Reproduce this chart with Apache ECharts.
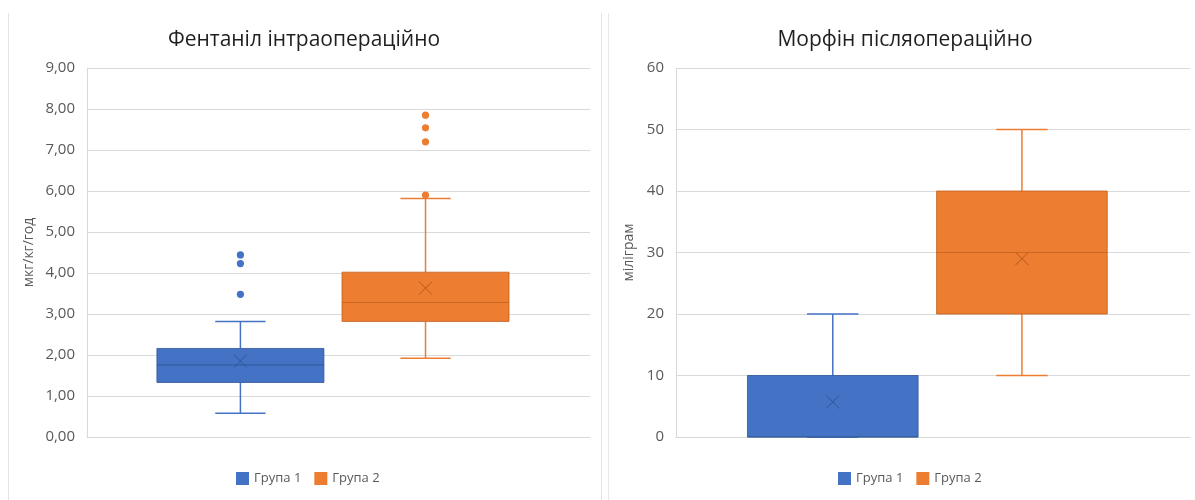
<!DOCTYPE html>
<html>
<head>
<meta charset="utf-8">
<script src="https://cdn.jsdelivr.net/npm/echarts@6/dist/echarts.min.js"></script>
<style>
html,body{margin:0;padding:0;background:#fff;}
#chart{width:1195px;height:500px;}
</style>
</head>
<body>
<div id="chart"></div>
<script>
// ---- data ----
const groups = ['Група 1', 'Група 2'];
const titles = ['Фентаніл інтраопераційно', 'Морфін післяопераційно'];
const yNames = ['мкг/кг/год', 'міліграм'];
// [min, q1, median, q3, max]
const fentanylBox = [[0.58, 1.33, 1.76, 2.16, 2.82], [1.92, 2.82, 3.28, 4.02, 5.82]];
const fentanylMean = [1.85, 3.63];
const fentanylOutliers = [[4.44, 4.23, 3.48], [7.85, 7.54, 7.20, 5.90]];
const morphineBox = [[0, 0, 0, 10, 20], [10, 20, 30, 40, 50]];
const morphineMean = [5.7, 29.0];
const morphineOutliers = [[], []];
const fentanylTicks = { min: 0, max: 9, interval: 1 };
const morphineTicks = { min: 0, max: 60, interval: 10 };

// ---- styles ----
const colors = ['#4472C4', '#ED7D31'];
const medianColors = ['#2F5597', '#C0601E'];
const meanColors = ['#2F5597', '#B5571A'];
const offsets = [-0.195, 0.173];   // fraction of band width
const boxFrac = 0.332;
const capFrac = 0.1;
const FONT = '"Open Sans", "Noto Sans", sans-serif';

function boxRender(gi) {
  return function (params, api) {
    const band = api.size([1, 0])[0];
    const cx = api.coord([0, 0])[0] + offsets[gi] * band;
    const hw = band * boxFrac / 2;
    const cw = band * capFrac / 2;
    const y = i => api.coord([0, api.value(i)])[1];
    const yMin = y(1), yQ1 = y(2), yMed = y(3), yQ3 = y(4), yMax = y(5), yMean = y(6);
    const wl = { stroke: colors[gi], lineWidth: 1.5 };
    const s = 6.5;
    return {
      type: 'group',
      children: [
        { type: 'line', shape: { x1: cx, y1: yQ3, x2: cx, y2: yMax }, style: wl },
        { type: 'line', shape: { x1: cx, y1: yQ1, x2: cx, y2: yMin }, style: wl },
        { type: 'line', shape: { x1: cx - cw, y1: yMax, x2: cx + cw, y2: yMax }, style: wl },
        { type: 'line', shape: { x1: cx - cw, y1: yMin, x2: cx + cw, y2: yMin }, style: wl },
        { type: 'rect', shape: { x: cx - hw, y: yQ3, width: 2 * hw, height: yQ1 - yQ3 },
          style: { fill: colors[gi], stroke: medianColors[gi], lineWidth: 0.8, opacity: 1 } },
        { type: 'line', shape: { x1: cx - hw, y1: yMed, x2: cx + hw, y2: yMed },
          style: { stroke: medianColors[gi], lineWidth: 1.2, opacity: 0.75 } },
        { type: 'line', shape: { x1: cx - s, y1: yMean - s, x2: cx + s, y2: yMean + s },
          style: { stroke: meanColors[gi], lineWidth: 1 } },
        { type: 'line', shape: { x1: cx - s, y1: yMean + s, x2: cx + s, y2: yMean - s },
          style: { stroke: meanColors[gi], lineWidth: 1 } }
      ]
    };
  };
}
function outlierRender(gi) {
  return function (params, api) {
    const band = api.size([1, 0])[0];
    const p = api.coord([0, api.value(1)]);
    return { type: 'circle', shape: { cx: p[0] + offsets[gi] * band, cy: p[1], r: 3.6 },
      style: { fill: colors[gi] } };
  };
}

const panels = [
  { box: fentanylBox, mean: fentanylMean, out: fentanylOutliers, ticks: fentanylTicks,
    fmt: v => v.toFixed(2).replace('.', ','), nameGap: 51, grid: { left: 87, right: 605, top: 68, bottom: 63 } },
  { box: morphineBox, mean: morphineMean, out: morphineOutliers, ticks: morphineTicks,
    fmt: v => String(v), nameGap: 40, grid: { left: 676, right: 5, top: 68, bottom: 63 } }
];

const grid = [], xAxis = [], yAxis = [], series = [];
panels.forEach((pn, pi) => {
  grid.push(pn.grid);
  xAxis.push({
    type: 'category', gridIndex: pi, data: [''],
    axisLine: { show: true, lineStyle: { color: '#d9d9d9' } },
    axisTick: { show: false }, axisLabel: { show: false }, splitLine: { show: false }
  });
  yAxis.push({
    type: 'value', gridIndex: pi, min: pn.ticks.min, max: pn.ticks.max, interval: pn.ticks.interval,
    name: yNames[pi], nameLocation: 'middle', nameGap: pn.nameGap,
    nameTextStyle: { color: '#595959', fontSize: 14, fontFamily: FONT },
    axisLine: { show: true, lineStyle: { color: '#d9d9d9' } },
    axisTick: { show: false },
    axisLabel: { color: '#595959', fontSize: 15, fontFamily: FONT, margin: 12, formatter: pn.fmt },
    splitLine: { show: true, lineStyle: { color: '#d9d9d9', width: 1 } }
  });
  groups.forEach((g, gi) => {
    const b = pn.box[gi];
    series.push({
      type: 'custom', name: g, xAxisIndex: pi, yAxisIndex: pi,
      itemStyle: { color: colors[gi] },
      encode: { x: 0, y: [1, 2, 3, 4, 5, 6] },
      renderItem: boxRender(gi),
      data: [[0, b[0], b[1], b[2], b[3], b[4], pn.mean[gi]]],
      z: 3
    });
    series.push({
      type: 'custom', name: g, xAxisIndex: pi, yAxisIndex: pi,
      itemStyle: { color: colors[gi] },
      encode: { x: 0, y: 1 },
      renderItem: outlierRender(gi),
      data: pn.out[gi].map(v => [0, v]),
      z: 4
    });
  });
});

const legendBase = {
  icon: 'rect', itemWidth: 13, itemHeight: 13, itemGap: 13, top: 467,
  textStyle: { color: '#595959', fontSize: 13, fontFamily: FONT },
  data: groups.map((g, gi) => ({ name: g, itemStyle: { color: colors[gi] } }))
};

const option = {
  backgroundColor: '#fff',
  animation: false,
  grid, xAxis, yAxis, series,
  legend: [
    Object.assign({}, legendBase, { left: 231 }),
    Object.assign({}, legendBase, { left: 833 })
  ],
  graphic: [
    { type: 'line', shape: { x1: 8.5, y1: 13, x2: 8.5, y2: 500 }, style: { stroke: '#e3e3e3', lineWidth: 1 } },
    { type: 'line', shape: { x1: 601.5, y1: 13, x2: 601.5, y2: 500 }, style: { stroke: '#e3e3e3', lineWidth: 1 } },
    { type: 'line', shape: { x1: 608.5, y1: 13, x2: 608.5, y2: 500 }, style: { stroke: '#e8e8e8', lineWidth: 1 } },
    { type: 'text', x: 304, y: 40, style: { text: titles[0], textAlign: 'center', textVerticalAlign: 'middle',
        fill: '#1f1f1f', fontSize: 21, fontFamily: FONT } },
    { type: 'text', x: 905, y: 40, style: { text: titles[1], textAlign: 'center', textVerticalAlign: 'middle',
        fill: '#1f1f1f', fontSize: 21, fontFamily: FONT } }
  ]
};

const chart = echarts.init(document.getElementById('chart'), null, { renderer: 'canvas' });
chart.setOption(option);
</script>
</body>
</html>
